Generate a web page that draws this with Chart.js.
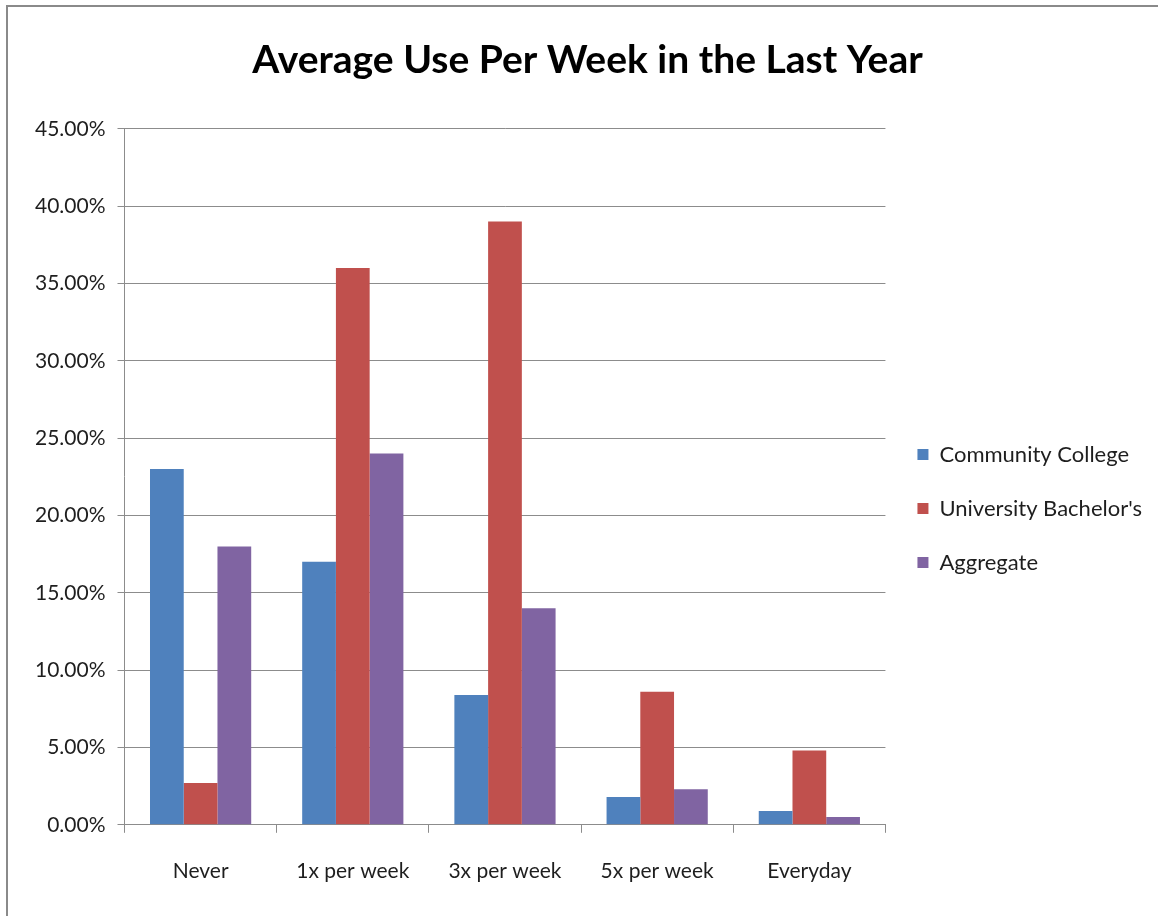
<!DOCTYPE html>
<html>
<head>
<meta charset="utf-8">
<script src="https://cdn.jsdelivr.net/npm/chart.js@4"></script>
<style>
    html, body { margin: 0; padding: 0; background: #fff; overflow: hidden; }
    #frame {
        position: absolute; left: 6px; top: 5px; width: 1200px; height: 1000px;
        border-left: 2px solid #8a8a8a; border-top: 2px solid #8a8a8a;
    }
    #wrap { position: absolute; left: 0; top: 0; width: 1158px; height: 916px; }
</style>
</head>
<body>
<div id="frame"></div>
<div id="wrap"><canvas id="usoSemanal"></canvas></div>
<script>
const categorias = ['Never', '1x per week', '3x per week', '5x per week', 'Everyday'];
const communityCollege = [23.0, 17.0, 8.4, 1.8, 0.9];
const universityBachelors = [2.7, 36.0, 39.0, 8.6, 4.8];
const aggregate = [18.0, 24.0, 14.0, 2.3, 0.5];

const fonte = "Lato, 'Liberation Sans', sans-serif";
const corTexto = '#1e1e1e';
const corGrade = '#8c8c8c';

const ctx = document.getElementById('usoSemanal').getContext('2d');
const grafico = new Chart(ctx, {
    type: 'bar',
    data: {
        labels: categorias,
        datasets: [
            { label: 'Community College', data: communityCollege, backgroundColor: '#4f81bd' },
            { label: "University Bachelor's", data: universityBachelors, backgroundColor: '#c0504d' },
            { label: 'Aggregate', data: aggregate, backgroundColor: '#8064a2' }
        ]
    },
    options: {
        responsive: true,
        maintainAspectRatio: false,
        animation: false,
        categoryPercentage: 0.665,
        barPercentage: 1.0,
        layout: { padding: { left: 23, right: 6, top: 37, bottom: 6 } },
        plugins: {
            title: {
                display: true,
                text: 'Average Use Per Week in the Last Year',
                color: '#000',
                font: { family: fonte, size: 39, weight: 'bold' },
                padding: { top: 0, bottom: 45 }
            },
            legend: {
                position: 'right',
                // titulo vazio so para empurrar a legenda para baixo
                title: { display: true, text: ' ', font: { size: 20 }, padding: { top: 46, bottom: 0 } },
                labels: {
                    boxWidth: 11,
                    boxHeight: 11,
                    padding: 32,
                    color: corTexto,
                    font: { family: fonte, size: 22 }
                }
            },
            tooltip: { enabled: false }
        },
        scales: {
            x: {
                grid: {
                    offset: true,
                    drawOnChartArea: false,
                    tickLength: 8,
                    color: corGrade
                },
                border: { color: corGrade },
                ticks: {
                    color: corTexto,
                    padding: 26,
                    font: { family: fonte, size: 21 }
                }
            },
            y: {
                min: 0,
                max: 45,
                ticks: {
                    stepSize: 5,
                    color: corTexto,
                    padding: 12,
                    font: { family: fonte, size: 21 },
                    callback: v => v.toFixed(2) + '%'
                },
                grid: { color: corGrade, tickLength: 7 },
                border: { color: corGrade }
            }
        }
    }
});
</script>
</body>
</html>
